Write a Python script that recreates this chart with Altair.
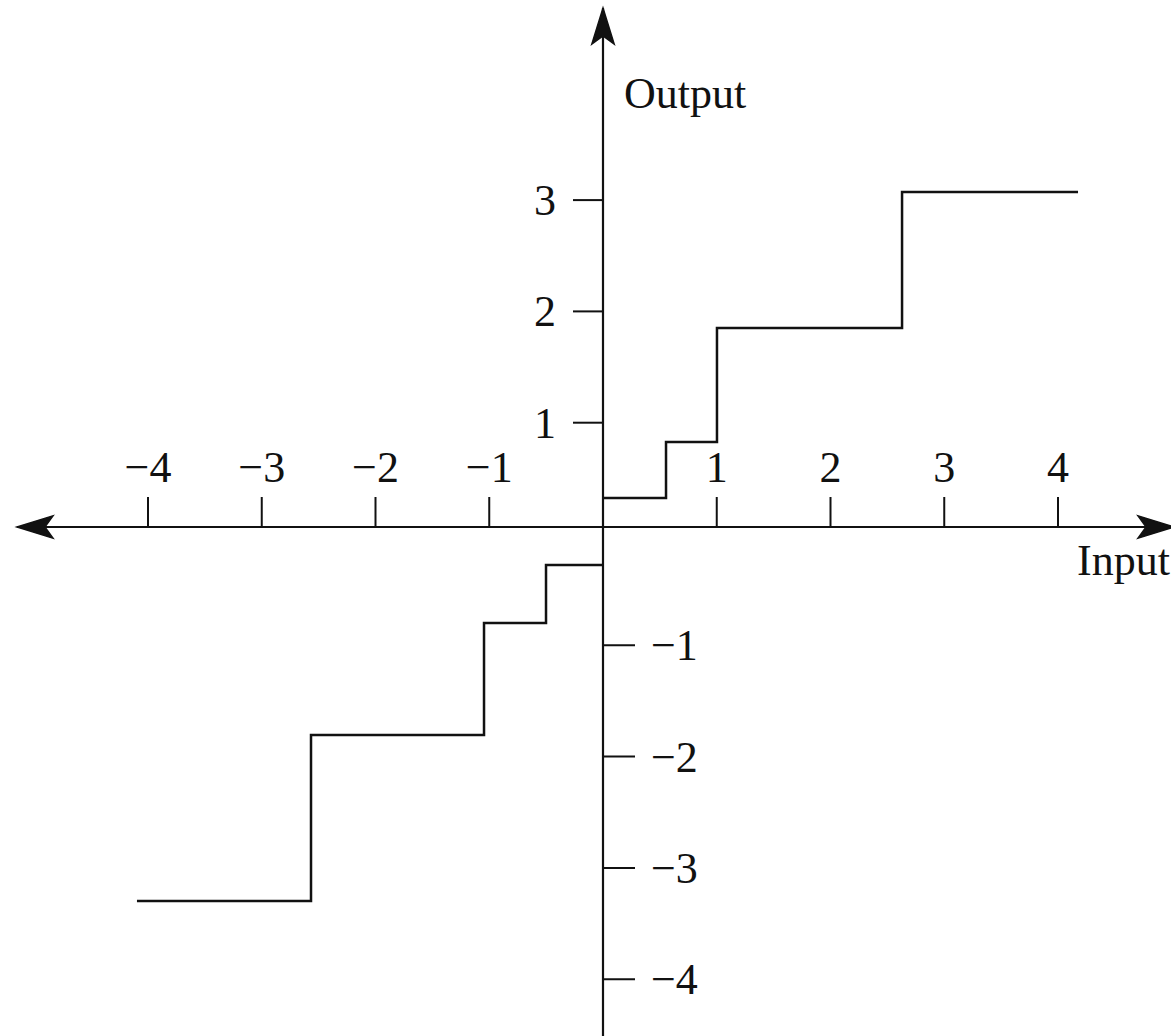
import altair as alt
import pandas as pd

# Quantizer staircase: breakpoints along the input axis and the output level held on each step
pos_edges = [0.0, 0.554, 1.002, 2.629, 4.176]
pos_levels = [0.323, 0.827, 1.851, 3.073]
neg_edges = [-4.097, -2.567, -1.046, -0.501, 0.0]
neg_levels = [-3.297, -1.806, -0.800, -0.279]

# Axis tick values
x_ticks = [-4, -3, -2, -1, 1, 2, 3, 4]
y_ticks_pos = [1, 2, 3]
y_ticks_neg = [-1, -2, -3, -4]

# Axis titles
x_title = "Input"
y_title = "Output"

# ---- layout ---------------------------------------------------------------
W, H = 1171, 1036
X_DOMAIN = [-5.3011, 4.9934]
Y_DOMAIN = [-4.5103, 4.7978]
AXIS_LEVEL = 0.063          # height at which the horizontal axis is drawn
X_LEFT_TIP, X_RIGHT_TIP = -5.152, 5.02
Y_TOP_TIP = 4.726
FONT = "Liberation Serif"
FS = 44
INK = "#111111"
ARROW_LEN = 36
ARROW_PATH = "M0,-1L0.62,1L0,0.55L-0.62,1Z"

xs = alt.Scale(domain=X_DOMAIN, nice=False, zero=False)
ys = alt.Scale(domain=Y_DOMAIN, nice=False, zero=False)


def X(f="x"):
    return alt.X(f"{f}:Q", scale=xs, axis=None)


def Y(f="y"):
    return alt.Y(f"{f}:Q", scale=ys, axis=None)


def minus(v):
    return ("\u2212" + str(abs(v))) if v < 0 else str(v)


# staircase points (step-after interpolation)
rows = []
for side, edges, levels in (("pos", pos_edges, pos_levels), ("neg", neg_edges, neg_levels)):
    for e, l in zip(edges[:-1], levels):
        rows.append({"x": e, "y": l, "side": side})
    rows.append({"x": edges[-1], "y": levels[-1], "side": side})
steps_df = pd.DataFrame(rows)

axes_df = pd.DataFrame([
    {"x": X_LEFT_TIP, "x2": X_RIGHT_TIP, "y": AXIS_LEVEL, "y2": AXIS_LEVEL},
    {"x": 0.0, "x2": 0.0, "y": Y_DOMAIN[0], "y2": Y_TOP_TIP},
])

xt_df = pd.DataFrame({"x": x_ticks, "y": AXIS_LEVEL, "y2": AXIS_LEVEL,
                      "label": [minus(v) for v in x_ticks]})
ytp_df = pd.DataFrame({"x": 0.0, "x2": 0.0, "y": y_ticks_pos,
                       "label": [minus(v) for v in y_ticks_pos]})
ytn_df = pd.DataFrame({"x": 0.0, "x2": 0.0, "y": y_ticks_neg,
                       "label": [minus(v) for v in y_ticks_neg]})

axes = alt.Chart(axes_df).mark_rule(color=INK, strokeWidth=2.2).encode(
    x=X(), x2="x2:Q", y=Y(), y2="y2:Q")

x_tick_marks = alt.Chart(xt_df).mark_rule(color=INK, strokeWidth=2, y2Offset=-30).encode(
    x=X(), y=Y(), y2="y2:Q")
x_tick_labels = alt.Chart(xt_df).mark_text(
    font=FONT, fontSize=FS, color=INK, align="center", baseline="alphabetic", dy=-45
).encode(x=X(), y=Y(), text="label:N")

y_tick_pos = alt.Chart(ytp_df).mark_rule(color=INK, strokeWidth=2, x2Offset=-30).encode(
    x=X(), x2="x2:Q", y=Y())
y_tick_pos_labels = alt.Chart(ytp_df).mark_text(
    font=FONT, fontSize=FS, color=INK, align="right", baseline="alphabetic", dx=-47, dy=15
).encode(x=X(), y=Y(), text="label:N")

y_tick_neg = alt.Chart(ytn_df).mark_rule(color=INK, strokeWidth=2, x2Offset=32).encode(
    x=X(), x2="x2:Q", y=Y())
y_tick_neg_labels = alt.Chart(ytn_df).mark_text(
    font=FONT, fontSize=FS, color=INK, align="left", baseline="alphabetic", dx=48, dy=15
).encode(x=X(), y=Y(), text="label:N")

x_title_mark = alt.Chart(pd.DataFrame([{"x": 4.167, "y": AXIS_LEVEL, "t": x_title}])).mark_text(
    font=FONT, fontSize=FS, color=INK, align="left", baseline="alphabetic", dy=48
).encode(x=X(), y=Y(), text="t:N")
y_title_mark = alt.Chart(pd.DataFrame([{"x": 0.0, "y": 3.827, "t": y_title}])).mark_text(
    font=FONT, fontSize=FS, color=INK, align="left", baseline="alphabetic", dx=21
).encode(x=X(), y=Y(), text="t:N")

steps = alt.Chart(steps_df).mark_line(
    color=INK, strokeWidth=2.5, interpolate="step-after"
).encode(x=X(), y=Y(), detail="side:N", order="x:Q")

# arrowheads at the ends of both axes
arrow_specs = [
    (0.0, Y_TOP_TIP, 0, 0, ARROW_LEN / 2),
    (X_LEFT_TIP, AXIS_LEVEL, 270, ARROW_LEN / 2, 0),
    (X_RIGHT_TIP, AXIS_LEVEL, 90, -ARROW_LEN / 2, 0),
]
arrows = []
for ax, ay, ang, ox, oy in arrow_specs:
    arrows.append(
        alt.Chart(pd.DataFrame([{"x": ax, "y": ay}])).mark_point(
            shape=ARROW_PATH, filled=True, color=INK, opacity=1,
            size=ARROW_LEN ** 2, angle=ang, xOffset=ox, yOffset=oy,
            stroke=INK, strokeWidth=1.5
        ).encode(x=X(), y=Y())
    )

chart = alt.layer(
    axes, x_tick_marks, y_tick_pos, y_tick_neg, steps,
    x_tick_labels, y_tick_pos_labels, y_tick_neg_labels,
    x_title_mark, y_title_mark, *arrows
).properties(
    width=W, height=H, padding=0, autosize=alt.AutoSizeParams(type="none"),
    background="white"
).configure_view(stroke=None)

chart.save("out.html", embed_options={"renderer": "svg", "actions": False})
